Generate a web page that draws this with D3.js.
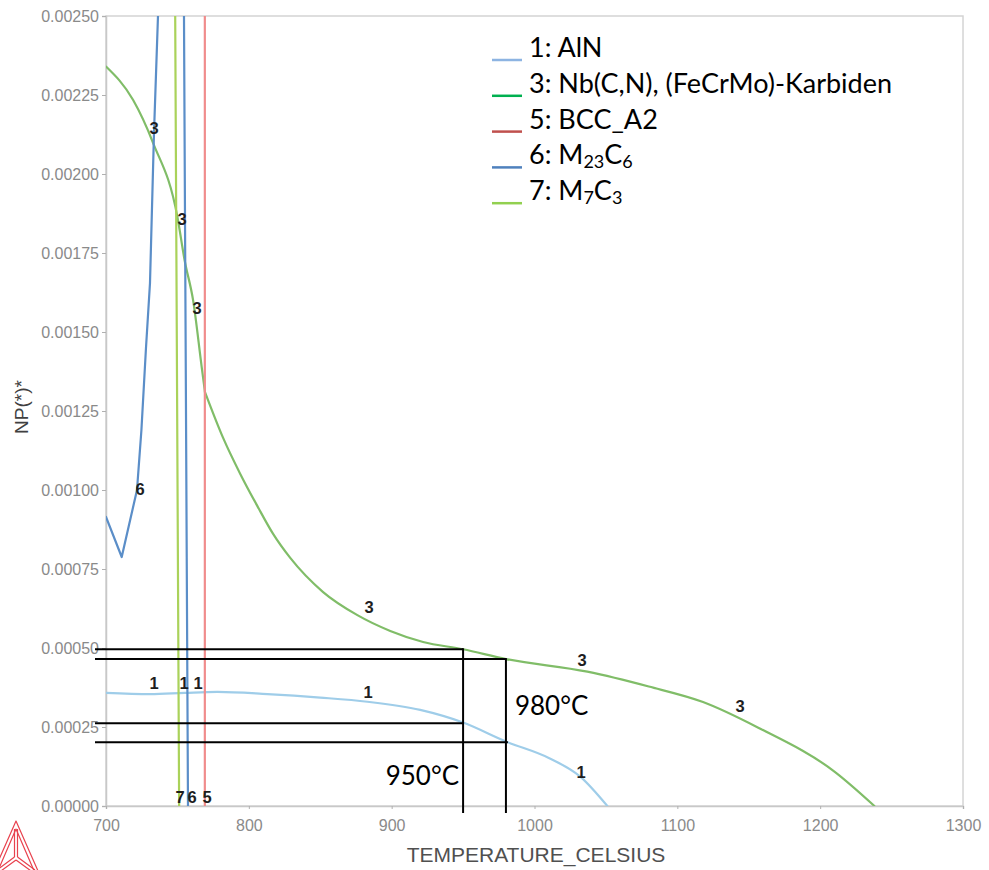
<!DOCTYPE html>
<html>
<head>
<meta charset="utf-8">
<script src="https://cdn.jsdelivr.net/npm/d3@7"></script>
<style>
  html, body { margin: 0; padding: 0; background: #fff; }
  svg { display: block; }
</style>
</head>
<body>
<svg id="chart" width="989" height="870"></svg>
<script>
// Phase amounts NP(*) against temperature (°C)

// 1: AlN
const alnT  = [700, 731, 755, 778, 813, 850, 883, 920, 950, 980, 1010, 1032, 1051];
const alnNP = [0.000358, 0.000354, 0.000358, 0.000361, 0.000354, 0.000343, 0.000330, 0.000304, 0.000264, 0.000204, 0.000152, 0.000093, 0.0];

// 3: Nb(C,N), (FeCrMo)-Karbiden  (slope break where BCC_A2 disappears, ~769 °C)
const nbcT  = [700, 719, 733, 750, 755, 761, 767, 769.3, 782, 794, 806, 817, 829, 852, 876, 899, 922, 950, 980, 1037, 1080, 1118, 1157, 1210, 1238];
const nbcNP = [0.00234, 0.002234, 0.002098, 0.001864, 0.001728, 0.0016, 0.001389, 0.00131, 0.001165, 0.001051, 0.000949, 0.000861, 0.000785, 0.000677, 0.000604, 0.000554, 0.000519, 0.000496, 0.000465, 0.000425, 0.000378, 0.000329, 0.000247, 0.000109, 0.0];
const nbcBreak = 769.3;

// 5: BCC_A2
const bccT  = [769.2, 769.2];
const bccNP = [0.0031, 0.0];

// 6: M23C6
const m23T  = [700, 711, 721.7, 724.8, 728, 730.8, 733.6, 736.4, 752.4, 754.6, 757.4];
const m23NP = [0.000915, 0.000788, 0.001, 0.00119, 0.00145, 0.001655, 0.00213, 0.0025, 0.00458, 0.0025, 0.0];

// 7: M7C3
const m7T  = [747.9, 751.2];
const m7NP = [0.0030, 0.0];

// axis ticks
const xTicks = [700, 800, 900, 1000, 1100, 1200, 1300];
const yTicks = [0, 0.00025, 0.0005, 0.00075, 0.001, 0.00125, 0.0015, 0.00175, 0.002, 0.00225, 0.0025];

// phase numbers written along the curves
const tagT    = [733.6, 753.2, 763.7, 884.2, 1033.3, 1144, 723.8, 733.6, 754.6, 764.4, 883.5, 1032.6, 751.8, 760.2, 770.7];
const tagNP   = [0.002146, 0.001858, 0.001576, 0.00063, 0.000462, 0.000316, 0.001003, 0.000389, 0.000389, 0.000389, 0.000361, 0.000108, 0.0000285, 0.0000285, 0.0000285];
const tagText = ["3", "3", "3", "3", "3", "3", "6", "1", "1", "1", "1", "1", "7", "6", "5"];

// read-offs at the two solution temperatures
const markT       = [950, 980];
const markCarbide = [0.000496, 0.000465];
const markAlN     = [0.000262, 0.000202];
const markLabel   = ["950°C", "980°C"];

const series = [
  { id: "1", name: [["1: AlN"]],                            t: alnT, v: alnNP, line: "#9fcde9", key: "#8db4e2", smooth: true },
  { id: "3", name: [["3: Nb(C,N), (FeCrMo)-Karbiden"]],     t: nbcT, v: nbcNP, line: "#80bd68", key: "#00b050", smooth: true, breakAt: nbcBreak },
  { id: "5", name: [["5: BCC_A2"]],                         t: bccT, v: bccNP, line: "#f08c8c", key: "#c0504d", smooth: false },
  { id: "6", name: [["6: M"], ["23", "sub"], ["C"], ["6", "sub"]], t: m23T, v: m23NP, line: "#5b8ec8", key: "#4f81bd", smooth: false },
  { id: "7", name: [["7: M"], ["7", "sub"], ["C"], ["3", "sub"]],  t: m7T, v: m7NP, line: "#aad25a", key: "#92d050", smooth: false }
];

const svg = d3.select("#chart");
const plotLeft = 106, plotRight = 963, plotTop = 16, plotBottom = 806;

const x = d3.scaleLinear().domain([700, 1300]).range([plotLeft, plotRight]);
const y = d3.scaleLinear().domain([0, 0.0025]).range([plotBottom, plotTop]);

const sans = "'Liberation Sans', Arial, sans-serif";
const office = "Lato, 'Open Sans', sans-serif";

// frame
svg.append("rect")
  .attr("x", plotLeft).attr("y", plotTop)
  .attr("width", plotRight - plotLeft).attr("height", plotBottom - plotTop)
  .attr("fill", "none").attr("stroke", "#d4d4d4").attr("stroke-width", 1.5);

// axes
const yAxis = svg.append("g")
  .attr("transform", `translate(${plotLeft},0)`)
  .call(d3.axisLeft(y).tickValues(yTicks).tickFormat(d3.format(".5f")).tickSize(4).tickPadding(3));
const xAxis = svg.append("g")
  .attr("transform", `translate(0,${plotBottom})`)
  .call(d3.axisBottom(x).tickValues(xTicks).tickFormat(d3.format("d")).tickSize(3).tickPadding(11));

[yAxis, xAxis].forEach(g => {
  g.select(".domain").attr("stroke", "#c8c8c8").attr("stroke-width", 1.5);
  g.selectAll(".tick line").attr("stroke", "#b0b0b0");
  g.selectAll(".tick text")
    .attr("fill", "#8a8a8a")
    .style("font-family", sans)
    .style("font-size", "16px");
});

// axis titles
svg.append("text")
  .attr("x", 536).attr("y", 862)
  .attr("text-anchor", "middle")
  .attr("fill", "#505050")
  .style("font-family", sans).style("font-size", "21px")
  .text("TEMPERATURE_CELSIUS");

svg.append("text")
  .attr("transform", "translate(28,407) rotate(-90)")
  .attr("text-anchor", "middle")
  .attr("fill", "#404040")
  .style("font-family", sans).style("font-size", "19px")
  .text("NP(*)*");

// curves
svg.append("clipPath").attr("id", "plot-clip")
  .append("rect")
  .attr("x", plotLeft).attr("y", plotTop)
  .attr("width", plotRight - plotLeft).attr("height", plotBottom - plotTop);

const plot = svg.append("g").attr("clip-path", "url(#plot-clip)");

const drawOrder = ["1", "3", "7", "6", "5"];
drawOrder.forEach(id => {
  const s = series.find(d => d.id === id);
  const pts = s.t.map((t, i) => [t, s.v[i]]);
  // a slope break is kept sharp by drawing each side as its own smooth piece
  const pieces = s.breakAt === undefined
    ? [pts]
    : [pts.filter(d => d[0] <= s.breakAt), pts.filter(d => d[0] >= s.breakAt)];
  const line = d3.line()
    .x(d => x(d[0]))
    .y(d => y(d[1]))
    .curve(s.smooth ? d3.curveMonotoneX : d3.curveLinear);
  pieces.forEach(p => {
    plot.append("path")
      .datum(p)
      .attr("d", line)
      .attr("fill", "none")
      .attr("stroke", s.line)
      .attr("stroke-width", 2.2)
      .attr("stroke-linejoin", "round")
      .attr("stroke-linecap", "round");
  });
});

// phase numbers on the curves
svg.append("g").selectAll("text")
  .data(tagText.map((t, i) => ({ t: tagT[i], v: tagNP[i], s: t })))
  .join("text")
  .attr("x", d => x(d.t))
  .attr("y", d => y(d.v))
  .attr("text-anchor", "middle")
  .attr("dominant-baseline", "central")
  .attr("fill", "#1e1e1e")
  .style("font-family", sans)
  .style("font-weight", "bold")
  .style("font-size", "16.5px")
  .text(d => d.s);

// read-off lines for 950 °C and 980 °C
const ink = svg.append("g").attr("stroke", "#000").attr("stroke-width", 2).attr("fill", "none");
const lineStart = x(700) - 11;
markT.forEach((t, i) => {
  const xt = x(t);
  ink.append("line").attr("x1", lineStart).attr("x2", xt).attr("y1", y(markCarbide[i])).attr("y2", y(markCarbide[i]));
  ink.append("line").attr("x1", lineStart).attr("x2", xt + 2 * i).attr("y1", y(markAlN[i])).attr("y2", y(markAlN[i]));
  ink.append("line").attr("x1", xt).attr("x2", xt).attr("y1", y(markCarbide[i]) - 1).attr("y2", y(0) + 7);
});

svg.append("text")
  .attr("x", x(markT[0]) - 4).attr("y", y(0) - 21)
  .attr("text-anchor", "end")
  .attr("fill", "#000")
  .style("font-family", office).style("font-size", "26px")
  .text(markLabel[0]);

svg.append("text")
  .attr("x", x(markT[1]) + 9).attr("y", y(markAlN[1]) - 27)
  .attr("text-anchor", "start")
  .attr("fill", "#000")
  .style("font-family", office).style("font-size", "26px")
  .text(markLabel[1]);

// legend
const legend = svg.append("g").attr("transform", "translate(492,57)");
series.forEach((s, i) => {
  const row = legend.append("g").attr("transform", `translate(0,${i * 35.8})`);
  row.append("line")
    .attr("x1", 0).attr("x2", 30)
    .attr("y1", 3).attr("y2", 3)
    .attr("stroke", s.key).attr("stroke-width", 2.5);
  const txt = row.append("text")
    .attr("x", 37).attr("y", 0)
    .attr("fill", "#000")
    .style("font-family", office).style("font-size", "27px");
  s.name.forEach(([part, kind]) => {
    const span = txt.append("tspan").text(part);
    if (kind === "sub") span.style("font-size", "18px").attr("baseline-shift", "-22%");
  });
});

// Thermo-Calc mark, lower left corner
const logo = svg.append("g")
  .attr("fill", "none")
  .attr("stroke", "#e8424e")
  .attr("stroke-width", 1.2)
  .attr("stroke-linejoin", "round");
logo.append("path").attr("d", "M16,821 L-10,880 L42,880 Z");
logo.append("path").attr("d", "M16,829 L-3,873 L35,873 Z");
logo.append("path").attr("d", "M14.5,829 L14.5,857 M17.5,829 L17.5,857");
logo.append("path").attr("d", "M14.5,857 L-3,870 M17.5,857 L35,870");
logo.append("path").attr("d", "M16,860 L-6,876 M16,860 L38,876");
</script>
</body>
</html>
